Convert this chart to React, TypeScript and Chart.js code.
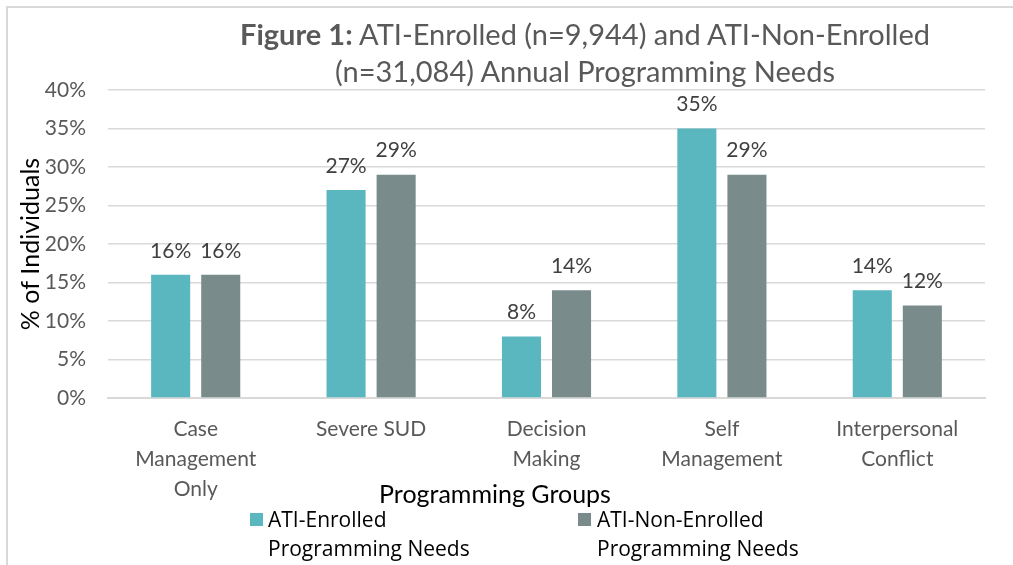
import React, { useEffect, useRef } from "react";
import { Chart, registerables } from "chart.js";

Chart.register(...registerables);

const categories: string[][] = [
  ["Case", "Management", "Only"],
  ["Severe SUD"],
  ["Decision", "Making"],
  ["Self", "Management"],
  ["Interpersonal", "Conflict"],
];
const enrolled: number[] = [16, 27, 8, 35, 14];
const nonEnrolled: number[] = [16, 29, 14, 29, 12];
const seriesNames: string[] = ["ATI-Enrolled Programming Needs", "ATI-Non-Enrolled Programming Needs"];
const yTicks: number[] = [0, 5, 10, 15, 20, 25, 30, 35, 40];

const TEAL = "#5AB6BF";
const GRAY = "#7A8B8C";
const FONT = "Lato, 'Open Sans', sans-serif";

const dataLabelPlugin = {
  id: "dataLabels",
  afterDatasetsDraw(chart: any) {
    const ctx = chart.ctx;
    ctx.save();
    ctx.font = `21px ${FONT}`;
    ctx.fillStyle = "#404040";
    ctx.textAlign = "center";
    ctx.textBaseline = "middle";
    chart.data.datasets.forEach((ds: any, di: number) => {
      const meta = chart.getDatasetMeta(di);
      meta.data.forEach((bar: any, i: number) => {
        ctx.fillText(`${ds.data[i]}%`, bar.x, bar.y - 24);
      });
    });
    ctx.restore();
  },
};

export default function App() {
  const ref = useRef<HTMLCanvasElement | null>(null);
  useEffect(() => {
    if (!ref.current) return;
    const chart = new Chart(ref.current, {
      type: "bar",
      data: {
        labels: categories,
        datasets: [
          { label: seriesNames[0], data: enrolled, backgroundColor: TEAL, barPercentage: 0.78, categoryPercentage: 0.571 },
          { label: seriesNames[1], data: nonEnrolled, backgroundColor: GRAY, barPercentage: 0.78, categoryPercentage: 0.571 },
        ],
      },
      options: {
        animation: false,
        responsive: false,
        maintainAspectRatio: false,
        layout: { padding: { left: 0, right: 28, top: 90, bottom: 0 } },
        plugins: {
          legend: { display: false },
          title: { display: false },
          tooltip: { enabled: false },
        },
        scales: {
          x: {
            grid: { display: false },
            border: { display: true, color: "#d9d9d9", width: 2 },
            ticks: {
              color: "#595959",
              font: { family: FONT, size: 21, lineHeight: "30px" },
              padding: 8,
              maxRotation: 0,
              autoSkip: false,
            },
            afterFit: (s: any) => {
              s.height = 167;
            },
          },
          y: {
            min: 0,
            max: 40,
            afterBuildTicks: (s: any) => {
              s.ticks = yTicks.map((v) => ({ value: v }));
            },
            grid: { color: "#d9d9d9", lineWidth: 1.5, drawTicks: false },
            border: { display: false },
            ticks: {
              color: "#595959",
              font: { family: FONT, size: 21 },
              padding: 22,
              callback: (v: any) => `${v}%`,
            },
            title: {
              display: true,
              text: "% of Individuals",
              color: "#000",
              font: { family: FONT, size: 25, lineHeight: "30px" },
              padding: { top: 16, bottom: 0 },
            },
            afterFit: (s: any) => {
              s.width = 108;
            },
          },
        },
      },
      plugins: [dataLabelPlugin],
    });
    return () => chart.destroy();
  }, []);

  const legendText: React.CSSProperties = {
    position: "absolute",
    fontFamily: "'Open Sans', sans-serif",
    fontSize: 21,
    lineHeight: "29px",
    color: "#000",
    whiteSpace: "nowrap",
  };

  return (
    <div style={{ position: "fixed", left: 0, top: 0, width: 1013, height: 565, background: "#fff", overflow: "hidden" }}>
      <div style={{ position: "absolute", left: 6, top: 6, width: 1013, height: 565, borderLeft: "2px solid #d9d9d9", borderTop: "2px solid #d9d9d9" }} />
      <canvas ref={ref} width={1013} height={565} style={{ position: "absolute", left: 0, top: 0, width: 1013, height: 565 }} />
      <div
        style={{
          position: "absolute",
          left: 185,
          top: 15,
          width: 800,
          textAlign: "center",
          fontFamily: FONT,
          fontSize: 29,
          lineHeight: "37px",
          color: "#595959",
        }}
      >
        <div><b>Figure 1:</b> ATI-Enrolled (n=9,944) and ATI-Non-Enrolled</div>
        <div>(n=31,084) Annual Programming Needs</div>
      </div>
      <div
        style={{
          position: "absolute",
          left: 295,
          top: 478,
          width: 400,
          textAlign: "center",
          fontFamily: FONT,
          fontSize: 25,
          lineHeight: "30px",
          color: "#000",
        }}
      >
        Programming Groups
      </div>
      <div style={{ position: "absolute", left: 250, top: 513, width: 13, height: 13, background: TEAL }} />
      <div style={{ ...legendText, left: 268, top: 505 }}>
        <div>ATI-Enrolled</div>
        <div>Programming Needs</div>
      </div>
      <div style={{ position: "absolute", left: 578, top: 513, width: 13, height: 13, background: GRAY }} />
      <div style={{ ...legendText, left: 597, top: 505 }}>
        <div>ATI-Non-Enrolled</div>
        <div>Programming Needs</div>
      </div>
    </div>
  );
}
